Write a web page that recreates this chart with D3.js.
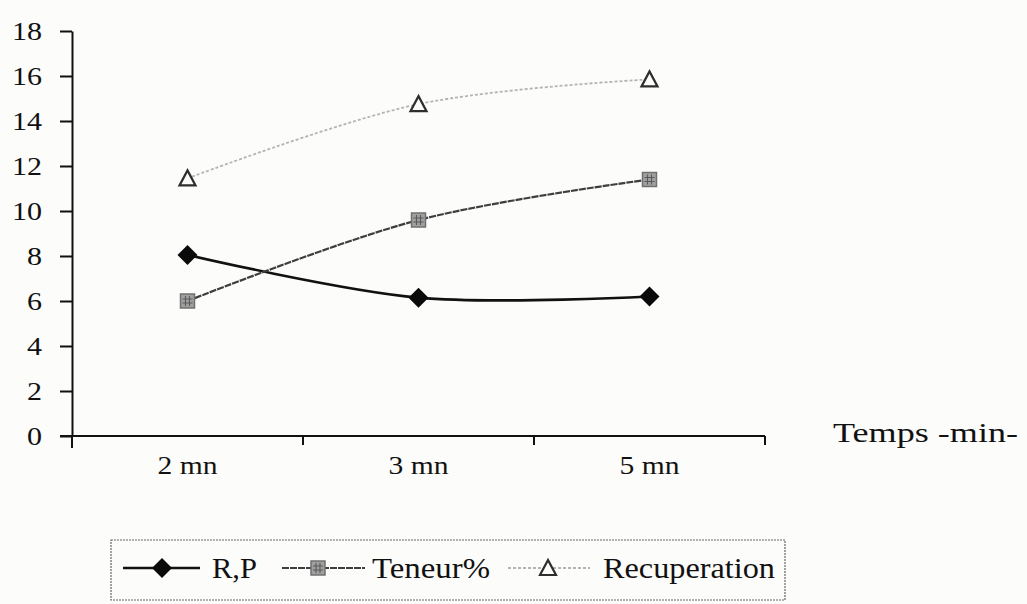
<!DOCTYPE html>
<html>
<head>
<meta charset="utf-8">
<script src="https://cdn.jsdelivr.net/npm/d3@7"></script>
<style>
  html, body { margin: 0; padding: 0; background: #fcfcfa; }
  svg { display: block; }
</style>
</head>
<body>
<svg id="chart" width="1027" height="604"></svg>
<script>
// Time categories (x axis)
const categories = ["2 mn", "3 mn", "5 mn"];
// Series values per time
const rpValues = [8.05, 6.15, 6.2];
const teneurValues = [6.0, 9.6, 11.4];
const recuperationValues = [11.45, 14.75, 15.85];
// Y axis ticks
const yTicks = [0, 2, 4, 6, 8, 10, 12, 14, 16, 18];
const seriesNames = ["R,P", "Teneur%", "Recuperation"];
const xTitle = "Temps -min-";

const FONT = "Liberation Serif";

const svg = d3.select("#chart");
svg.append("rect").attr("width", 1027).attr("height", 604).attr("fill", "#fcfcfa");

const x = d3.scaleBand().domain(categories).range([72, 765]);
const y = d3.scaleLinear().domain([0, 18]).range([436, 31]);
const cx = c => x(c) + x.bandwidth() / 2;

// Y axis
const yAxis = svg.append("g")
  .attr("transform", "translate(72,0)")
  .call(d3.axisLeft(y).tickValues(yTicks).tickSize(12).tickSizeOuter(0).tickPadding(18));
yAxis.attr("font-family", null).attr("font-size", null);
yAxis.select(".domain").attr("stroke", "#111").attr("stroke-width", 2);
yAxis.selectAll(".tick line").attr("stroke", "#111").attr("stroke-width", 2);
yAxis.selectAll(".tick text")
  .style("font-family", FONT)
  .style("font-size", "26px")
  .attr("fill", "#111")
  .attr("dy", "0.34em")
  .attr("textLength", d => d >= 10 ? 30 : 15)
  .attr("lengthAdjust", "spacingAndGlyphs");

// X axis: labels centred in each band, tick marks on band edges
const xAxis = svg.append("g")
  .attr("transform", "translate(0,436)")
  .call(d3.axisBottom(x).tickSize(0).tickSizeOuter(0).tickPadding(20));
xAxis.attr("font-family", null).attr("font-size", null);
xAxis.select(".domain").attr("stroke", "#111").attr("stroke-width", 2)
  .attr("d", "M60,0H765");
xAxis.selectAll(".tick text")
  .style("font-family", FONT)
  .style("font-size", "26px")
  .attr("fill", "#111")
  .attr("textLength", 60)
  .attr("lengthAdjust", "spacingAndGlyphs");
const edges = categories.map(c => x(c)).concat([x.range()[1]]);
xAxis.selectAll("line.edge").data(edges).join("line")
  .attr("class", "edge")
  .attr("x1", d => d).attr("x2", d => d)
  .attr("y1", 0).attr("y2", (d, i) => i === 0 ? 12 : 9)
  .attr("stroke", "#111").attr("stroke-width", 2);

svg.append("text")
  .attr("x", 833).attr("y", 442)
  .style("font-family", FONT)
  .style("font-size", "28px")
  .attr("fill", "#111")
  .attr("textLength", 185)
  .attr("lengthAdjust", "spacingAndGlyphs")
  .text(xTitle);

// Series lines
const line = d3.line()
  .x((d, i) => cx(categories[i]))
  .y(d => y(d))
  .curve(d3.curveCatmullRom.alpha(0.5));

const styles = [
  { values: rpValues, stroke: "#111", width: 2.6, dash: null },
  { values: teneurValues, stroke: "#3e3e3e", width: 2.2, dash: "7,1" },
  { values: recuperationValues, stroke: "#b4b4b4", width: 1.8, dash: "3,2" }
];

styles.forEach(s => {
  svg.append("path")
    .attr("d", line(s.values))
    .attr("fill", "none")
    .attr("stroke", s.stroke)
    .attr("stroke-width", s.width)
    .attr("stroke-dasharray", s.dash);
});

// Marker shapes
function diamond(g, px, py) {
  g.append("path")
    .attr("d", `M${px},${py - 10}L${px + 10},${py}L${px},${py + 10}L${px - 10},${py}Z`)
    .attr("fill", "#0a0a0a");
}
function square(g, px, py) {
  g.append("rect")
    .attr("x", px - 7).attr("y", py - 7).attr("width", 14).attr("height", 14)
    .attr("fill", "#a0a0a0").attr("stroke", "#707070").attr("stroke-width", 1.5);
  g.append("path")
    .attr("d", `M${px - 5},${py - 2}H${px + 5}M${px - 5},${py + 2}H${px + 5}M${px - 2},${py - 5}V${py + 5}M${px + 2},${py - 5}V${py + 5}`)
    .attr("stroke", "#5a5a5a").attr("stroke-width", 1.1);
}
function triangle(g, px, py) {
  g.append("path")
    .attr("d", `M${px},${py - 8}L${px + 8},${py + 7}L${px - 8},${py + 7}Z`)
    .attr("fill", "#fcfcfa").attr("stroke", "#2e2e2e").attr("stroke-width", 2.2);
}
const markerFns = [diamond, square, triangle];

const marks = svg.append("g");
styles.forEach((s, k) => {
  s.values.forEach((v, i) => markerFns[k](marks, cx(categories[i]), y(v)));
});

// Legend
const legend = svg.append("g");
legend.append("rect")
  .attr("x", 111).attr("y", 540).attr("width", 674).attr("height", 60)
  .attr("fill", "none").attr("stroke", "#666").attr("stroke-width", 1.2)
  .attr("stroke-dasharray", "2,1");

const legendItems = [
  { x1: 123, x2: 200, mx: 162, tx: 212, tw: 45 },
  { x1: 282, x2: 365, mx: 318, tx: 372, tw: 118 },
  { x1: 508, x2: 590, mx: 548, tx: 603, tw: 172 }
];
legendItems.forEach((it, k) => {
  const s = styles[k];
  legend.append("line")
    .attr("x1", it.x1).attr("x2", it.x2).attr("y1", 568).attr("y2", 568)
    .attr("stroke", s.stroke).attr("stroke-width", s.width)
    .attr("stroke-dasharray", s.dash);
  markerFns[k](legend, it.mx, 568);
  legend.append("text")
    .attr("x", it.tx).attr("y", 578)
    .style("font-family", FONT)
    .style("font-size", "29px")
    .attr("fill", "#111")
    .attr("textLength", it.tw)
    .attr("lengthAdjust", "spacingAndGlyphs")
    .text(seriesNames[k]);
});
</script>
</body>
</html>
